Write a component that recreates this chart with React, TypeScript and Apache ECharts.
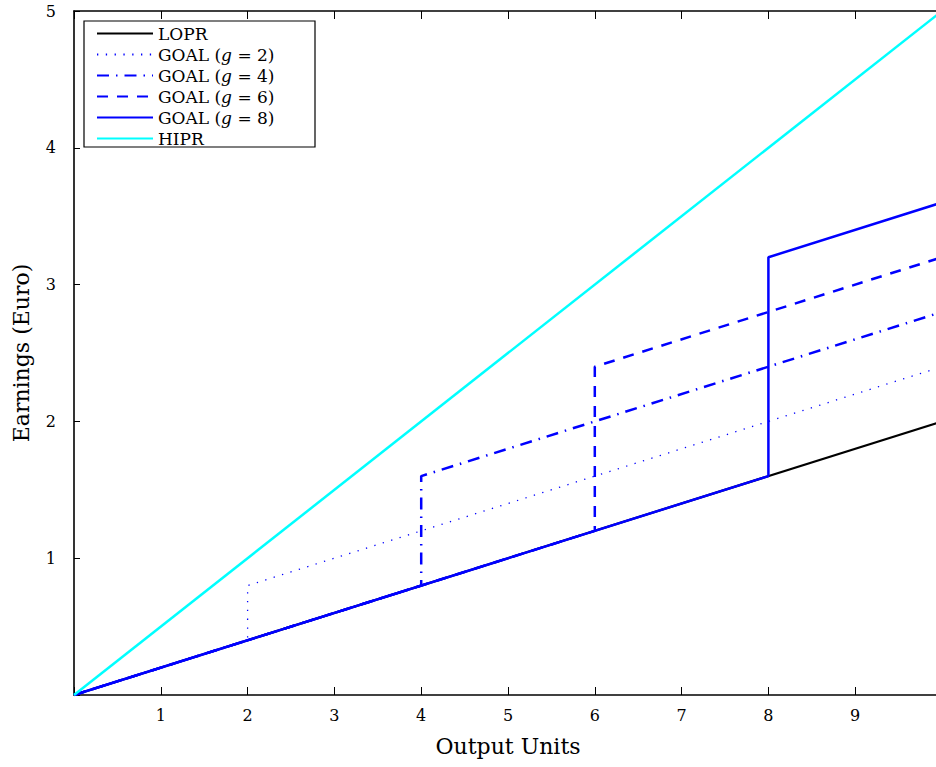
import React, { useEffect, useRef } from "react";
import * as echarts from "echarts";

const SERIES_NAMES = ["LOPR", "GOAL (g = 2)", "GOAL (g = 4)", "GOAL (g = 6)", "GOAL (g = 8)", "HIPR"];
const LOPR_X = [0, 10];
const LOPR_Y = [0, 2];
const G2_X = [0, 2, 2, 10];
const G2_Y = [0, 0.4, 0.8, 2.4];
const G4_X = [0, 4, 4, 10];
const G4_Y = [0, 0.8, 1.6, 2.8];
const G6_X = [0, 6, 6, 10];
const G6_Y = [0, 1.2, 2.4, 3.2];
const G8_X = [0, 8, 8, 10];
const G8_Y = [0, 1.6, 3.2, 3.6];
const HIPR_X = [0, 10];
const HIPR_Y = [0, 5];
const X_TITLE = "Output Units";
const Y_TITLE = "Earnings (Euro)";

const zip = (xs: number[], ys: number[]) => xs.map((x, i) => [x, ys[i]]);

const FONT = "DejaVu Serif";

export default function App() {
  const ref = useRef<HTMLDivElement>(null);
  useEffect(() => {
    if (!ref.current) return;
    const chart = echarts.init(ref.current, null, { renderer: "svg" });
    const axisCommon = {
      type: "value" as const,
      splitLine: { show: false },
      axisLine: { show: true, onZero: false, lineStyle: { color: "#000", width: 1.6 } },
    };
    const styles = [
      { color: "#000000", width: 2.2, type: "solid" as any },
      { color: "#0000ff", width: 1.3, type: [1.3, 7.5] as any },
      { color: "#0000ff", width: 2.5, type: [12, 7, 1.5, 7] as any },
      { color: "#0000ff", width: 2.5, type: [11, 9] as any },
      { color: "#0000ff", width: 2.5, type: "solid" as any },
      { color: "#00ffff", width: 2.5, type: "solid" as any },
    ];
    const datas = [
      zip(LOPR_X, LOPR_Y),
      zip(G2_X, G2_Y),
      zip(G4_X, G4_Y),
      zip(G6_X, G6_Y),
      zip(G8_X, G8_Y),
      zip(HIPR_X, HIPR_Y),
    ];
    chart.setOption({
      animation: false,
      backgroundColor: "#fff",
      textStyle: { fontFamily: FONT },
      grid: { left: 74, right: -6, top: 11, bottom: 72, containLabel: false, outerBoundsMode: "none" },
      xAxis: [
        {
          ...axisCommon,
          position: "bottom",
          min: 0,
          max: 10,
          interval: 1,
          axisTick: { show: true, inside: true, length: 8, lineStyle: { color: "#000", width: 1 } },
          axisLabel: {
            margin: 12,
            fontFamily: FONT,
            fontSize: 16,
            color: "#000",
            formatter: (v: number) => (v === 0 || v === 10 ? "" : String(v)),
          },
          name: X_TITLE,
          nameLocation: "middle",
          nameGap: 40,
          nameTextStyle: { fontFamily: FONT, fontSize: 22, color: "#000" },
        },
        {
          ...axisCommon,
          position: "top",
          min: 0,
          max: 10,
          interval: 1,
          axisTick: { show: true, inside: true, length: 8, lineStyle: { color: "#000", width: 1 } },
          axisLabel: { show: false },
        },
      ],
      yAxis: [
        {
          ...axisCommon,
          position: "left",
          min: 0,
          max: 5,
          interval: 1,
          axisTick: { show: true, inside: true, length: 6, lineStyle: { color: "#000", width: 1 } },
          axisLabel: {
            margin: 18,
            fontFamily: FONT,
            fontSize: 16,
            color: "#000",
            formatter: (v: number) => (v === 0 ? "" : String(v)),
          },
          name: Y_TITLE,
          nameLocation: "middle",
          nameGap: 42,
          nameRotate: 90,
          nameTextStyle: { fontFamily: FONT, fontSize: 22, color: "#000" },
        },
        {
          ...axisCommon,
          position: "right",
          min: 0,
          max: 5,
          interval: 1,
          axisTick: { show: true, inside: true, length: 6, lineStyle: { color: "#000", width: 1 } },
          axisLabel: { show: false },
        },
      ],
      graphic: [
        {
          type: "rect",
          z: 3,
          shape: { x: 84, y: 21, width: 231, height: 126 },
          style: { fill: "#fff", stroke: "#000", lineWidth: 1.2 },
        },
      ],
      legend: {
        z: 4,
        orient: "vertical",
        left: 84,
        top: 21,
        padding: [4, 10, 3, 12],
        itemWidth: 56,
        itemHeight: 14,
        itemGap: 4,
        data: SERIES_NAMES,
        selectedMode: false,
        itemStyle: { opacity: 0 },
        formatter: (name: string) => {
          const m = name.match(/^GOAL \(g = (\d+)\)$/);
          if (m) return `{n|GOAL (}{i|g}{n| = ${m[1]})}`;
          return `{n|${name}}`;
        },
        textStyle: {
          fontFamily: FONT,
          fontSize: 17,
          color: "#000",
          rich: {
            n: { fontFamily: FONT, fontSize: 17, lineHeight: 16, color: "#000" },
            i: { fontFamily: FONT, fontSize: 17, lineHeight: 16, color: "#000", fontStyle: "italic" },
          },
        },
      },
      series: SERIES_NAMES.map((name, i) => ({
        name,
        type: "line",
        xAxisIndex: 0,
        yAxisIndex: 0,
        data: datas[i],
        symbol: "none",
        showSymbol: false,
        color: styles[i].color,
        lineStyle: { color: styles[i].color, width: styles[i].width, type: styles[i].type },
        z: 2 + i,
      })),
    });
    return () => chart.dispose();
  }, []);
  return (
    <div
      ref={ref}
      style={{ position: "fixed", left: 0, top: 0, width: 936, height: 767, background: "#fff" }}
    />
  );
}
